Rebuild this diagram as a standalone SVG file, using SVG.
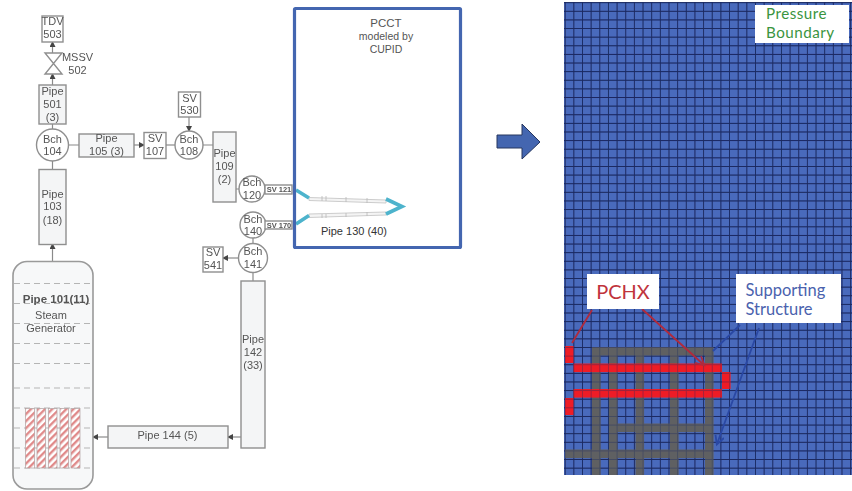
<svg xmlns="http://www.w3.org/2000/svg" width="852" height="491" viewBox="0 0 852 491">
<style>
text{font-family:"Liberation Sans",Arial,sans-serif;fill:#555;font-size:11px;text-anchor:middle}
.b{fill:#f4f5f6;stroke:#8f8f8f;stroke-width:1.4}
.w{fill:#fff;stroke:#8f8f8f;stroke-width:1.4}
.c{fill:none;stroke:#8a8a8a;stroke-width:1.2}
.a{marker-end:url(#ah)}
.d{stroke:#b5b5b5;stroke-width:1;stroke-dasharray:6 4;fill:none}
.h{fill:url(#hatch);stroke:#b0a0a0;stroke-width:.7}
.r{fill:#ee1c25}
.g{fill:#5f6062}
.lb{fill:#fff}
.cy{fill:none;stroke:#4db3cc;stroke-width:3.6}
.f{fill:#f4f4f4;stroke:#cccccc;stroke-width:1}
.s{font-size:7.5px;font-weight:bold}
.ca{font-family:Lato,"Liberation Sans",sans-serif;text-anchor:start}
</style>
<defs>
<marker id="ah" markerWidth="6" markerHeight="6" refX="5" refY="3" orient="auto" markerUnits="userSpaceOnUse"><path d="M0 0L6 3L0 6z" fill="#444"/></marker>
<marker id="rh" markerWidth="12" markerHeight="12" refX="9" refY="5" orient="auto" markerUnits="userSpaceOnUse"><path d="M1 .5L9.500 5L1 9.500" fill="none" stroke="#b02a3c" stroke-width="1.800"/></marker>
<marker id="bh" markerWidth="12" markerHeight="12" refX="9" refY="5" orient="auto" markerUnits="userSpaceOnUse"><path d="M1 .5L9.500 5L1 9.500" fill="none" stroke="#2a48a4" stroke-width="1.800"/></marker>
<pattern id="hatch" width="5" height="5" patternUnits="userSpaceOnUse" patternTransform="rotate(-45)"><rect width="5" height="5" fill="#fff"/><rect width="5" height="2.400" fill="#e08a8a"/></pattern>
<pattern id="grid" x="564.7" y="347" width="8.65" height="8.62" patternUnits="userSpaceOnUse"><path d="M0 0H8.650M0 0V8.620" stroke="#1a2860" stroke-width="1.700" fill="none"/></pattern>
<filter id="bl" x="-5%" y="-5%" width="110%" height="110%"><feGaussianBlur stdDeviation="0.45"/></filter>
</defs>

<g filter="url(#bl)">
<g id="connectors">
<path class="c a" d="M52.500 53V42"/>
<path class="c a" d="M52.500 85V74"/>
<path class="c" d="M52.500 124V129M52.500 161V169M68.500 145H79M203 145H213"/>
<path class="c a" d="M134 145H144"/>
<path class="c" d="M166 145H175"/>
<path class="c a" d="M189 117V131"/>
<path class="c" d="M236 189H239M253 238V244M253 272V281"/>
<path class="c a" d="M238 258H223"/>
<path class="c a" d="M52.500 261V244"/>
<path class="c a" d="M108 437H93"/>
<path class="c a" d="M241 437H228"/>
</g>

<g id="tdv503"><rect class="w" x="42" y="16" width="21" height="26"/><text x="52.500" y="25">TDV</text><text x="52.500" y="38">503</text></g>
<g id="mssv502"><path class="w" d="M45 53H62L45 74H62z"/><text x="77.500" y="61">MSSV</text><text x="77.500" y="74">502</text></g>
<g id="pipe501"><rect class="b" x="39" y="85" width="27" height="39"/><text x="52.500" y="95">Pipe</text><text x="52.500" y="108">501</text><text x="52.500" y="121">(3)</text></g>
<g id="bch104"><circle class="w" cx="52.500" cy="145" r="16"/><text x="52.500" y="143">Bch</text><text x="52.500" y="155">104</text></g>
<g id="pipe103"><rect class="b" x="39" y="169.500" width="27" height="75"/><text x="52.500" y="198">Pipe</text><text x="52.500" y="210">103</text><text x="52.500" y="224">(18)</text></g>
<g id="pipe105"><rect class="b" x="79" y="134" width="55" height="23"/><text x="106.500" y="142">Pipe</text><text x="106.500" y="155">105 (3)</text></g>
<g id="sv107"><rect class="w" x="144" y="132.500" width="22" height="26"/><text x="155" y="142">SV</text><text x="155" y="155">107</text></g>
<g id="bch108"><circle class="w" cx="189" cy="145" r="14"/><text x="189" y="143">Bch</text><text x="189" y="155">108</text></g>
<g id="sv530"><rect class="w" x="178.500" y="92" width="22" height="25"/><text x="189.500" y="102">SV</text><text x="189.500" y="114">530</text></g>
<g id="pipe109"><rect class="b" x="213" y="132" width="23" height="70"/><text x="224.500" y="157">Pipe</text><text x="224.500" y="170">109</text><text x="224.500" y="183">(2)</text></g>
<g id="bch120"><circle class="w" cx="252" cy="189" r="13"/><text x="252" y="186">Bch</text><text x="252" y="199">120</text></g>
<g id="sv121"><rect class="w" x="265" y="185" width="27" height="9"/><text class="s" x="279" y="192">SV 121</text></g>
<g id="bch140"><circle class="w" cx="253" cy="225" r="13"/><text x="253" y="223">Bch</text><text x="253" y="235">140</text></g>
<g id="sv170"><rect class="w" x="265" y="221" width="27" height="8"/><text class="s" x="279" y="228">SV 170</text></g>
<g id="bch141"><circle class="w" cx="253" cy="258" r="14.500"/><text x="253" y="255">Bch</text><text x="253" y="268">141</text></g>
<g id="sv541"><rect class="w" x="203" y="247" width="20" height="25"/><text x="213" y="255.500">SV</text><text x="213" y="268.500">541</text></g>
<g id="pipe142"><rect class="b" x="241" y="281" width="24" height="167"/><text x="253" y="343">Pipe</text><text x="253" y="356">142</text><text x="253" y="369">(33)</text></g>
<g id="pipe144"><rect class="b" x="108" y="426" width="120" height="22"/><text x="167.500" y="439">Pipe 144 (5)</text></g>
<g id="pipe101">
<rect x="13" y="261.500" width="80" height="227.500" rx="14" fill="#f7f8f9" stroke="#9a9a9a" stroke-width="1.600"/>
<path class="d" d="M14 283.500H91M14 303.500H91M14 323.500H91M14 343.500H91M14 363.500H91M14 388H91M14 408H91M14 428H91M14 448H91M14 468H91"/>
<rect class="h" x="25.500" y="408.500" width="9" height="59.500"/><rect class="h" x="37" y="408.500" width="8.500" height="59.500"/><rect class="h" x="48.500" y="408.500" width="8.500" height="59.500"/><rect class="h" x="60" y="408.500" width="8.500" height="59.500"/><rect class="h" x="71" y="408.500" width="9" height="59.500"/>
<text x="56" y="303" style="font-weight:bold;font-size:11.500px">Pipe 101(11)</text>
<text x="51" y="319">Steam</text><text x="51" y="332">Generator</text>
</g>
<g id="pipe130">
<path class="f" d="M309 197.500L386 200V203L309 200.500zM309 214L386 212V215L309 217.500z"/>
<path d="M322 196V201M326 196V201M346 197V202M367 198V203M322 214V218M326 214V218M346 213V217M367 212V216" stroke="#b8b8b8" stroke-width=".8"/>
<path class="cy" d="M296 190L309 198M296 224L309 215.500M386 199L402 206.500L386 214"/>
</g>
</g>

<g id="pcct"><rect x="294.500" y="8.500" width="166" height="239" rx="1" fill="none" stroke="#4466b0" stroke-width="3.200"/>
<text x="386" y="27" style="font-size:11.500px">PCCT</text><text x="386" y="40" style="font-size:10.500px">modeled by</text><text x="386" y="53" style="font-size:10.500px">CUPID</text>
<text x="354" y="235" style="font-size:11px;fill:#333">Pipe 130 (40)</text></g>

<g id="bigarrow"><path d="M497 135H522V124L540 142L522 159V148H497z" fill="#4466b0" stroke="#27375f" stroke-width="1"/></g>

<g id="mesh" filter="url(#bl)">
<rect x="564" y="2" width="288" height="473" fill="#4a6abc"/>
<rect x="564" y="2" width="288" height="473" fill="url(#grid)"/>
<g class="g"><rect x="592" y="347" width="121" height="8.600"/><rect x="592" y="347" width="8.600" height="128"/><rect x="609" y="347" width="8.600" height="128"/><rect x="635.500" y="347" width="8.600" height="128"/><rect x="670" y="347" width="8.600" height="128"/><rect x="705" y="347" width="8.600" height="128"/><rect x="617" y="423.500" width="88" height="8.600"/><rect x="565" y="449.500" width="140" height="8.600"/></g>
<g class="r"><rect x="565" y="346" width="8.600" height="17"/><rect x="565" y="398" width="8.600" height="17"/><rect x="573.500" y="363.500" width="148.500" height="8.600"/><rect x="573.500" y="389" width="148.500" height="8.600"/><rect x="722" y="372" width="8.600" height="17"/></g>
<rect x="564" y="2" width="288" height="473" fill="url(#grid)" opacity=".4"/>
</g>

<g id="connectors-mesh">
<path d="M592 310L572 343M642 309L704 365" fill="none" stroke="#b02a3c" stroke-width="1.800" marker-end="url(#rh)"/>
<path d="M740 325L713 351M759 328L717 444" fill="none" stroke="#2a48a4" stroke-width="1.800" marker-end="url(#bh)"/>
</g>
<g id="label-boundary"><rect class="lb" x="755" y="5" width="94" height="38"/><text class="ca" x="766" y="19" style="font-size:15.200px;letter-spacing:.5px;fill:#3a9440">Pressure</text><text class="ca" x="766" y="37.500" style="font-size:15.200px;letter-spacing:.5px;fill:#3a9440">Boundary</text></g>
<g id="label-pchx"><rect class="lb" x="587" y="274" width="72" height="35"/><text class="ca" x="623" y="299" style="font-size:20px;fill:#c0343c;text-anchor:middle">PCHX</text></g>
<g id="label-support"><rect class="lb" x="736" y="274" width="105" height="49"/><text class="ca" x="745.500" y="296" style="font-size:16.500px;fill:#4a62ae">Supporting</text><text class="ca" x="745.500" y="315" style="font-size:16.500px;fill:#4a62ae">Structure</text></g>
</svg>
